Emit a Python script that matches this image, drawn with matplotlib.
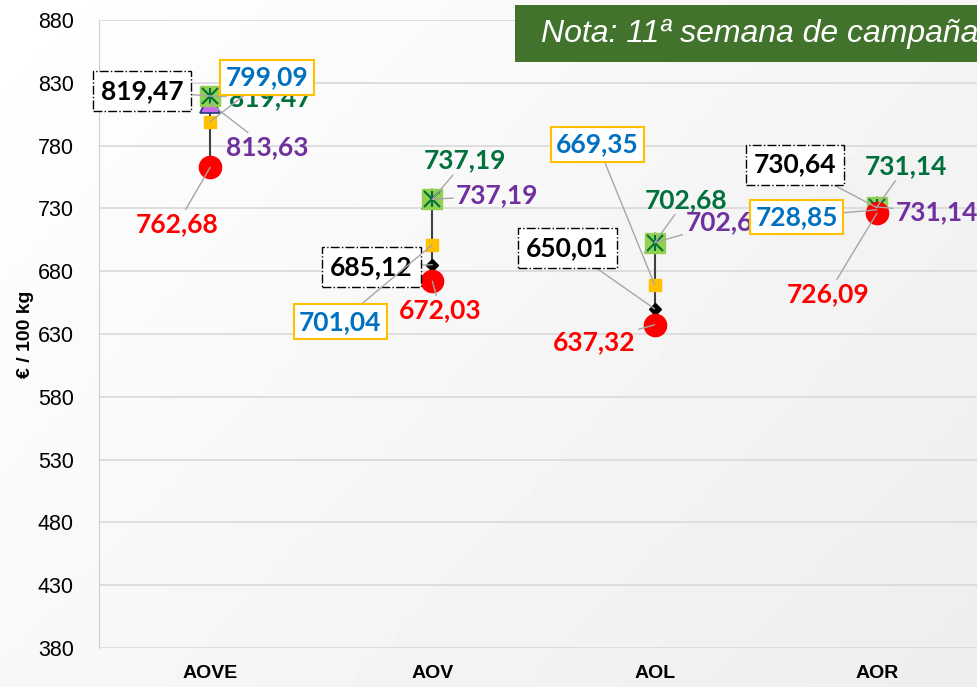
import numpy as np
import matplotlib.pyplot as plt
from matplotlib.patches import Rectangle

# datos
categorias = ['AOVE', 'AOV', 'AOL', 'AOR']
rojo = [762.68, 672.03, 637.32, 726.09]       # circulo rojo
amarillo = [799.09, 701.04, 669.35, 728.85]   # cuadrado amarillo (etiqueta azul)
negro = [819.47, 685.12, 650.01, 730.64]      # rombo negro
verde = [819.47, 737.19, 702.68, 731.14]      # cuadrado verde
morado = [813.63, 737.19, 702.68, 731.14]     # triangulo morado

# desplazamiento de las etiquetas (pixeles)
off_rojo = [(-33, -57), (8, -29), (-60, -17), (-49, -81)]
off_amarillo = [(57, 44), (-92, -77), (-57, 140), (-80, -7)]
off_negro = [(-68, 5), (-61, -2), (-87, 61), (-82, 43)]
off_verde = [(60, -2), (33, 39), (31, 43), (29, 41)]
off_morado = [(57, -44), (65, 4), (72, 21), (60, -5)]

fig = plt.figure(figsize=(9.78, 6.87), dpi=100)

# fondo con degradado suave
bg = fig.add_axes([0, 0, 1, 1], zorder=-10)
gx, gy = np.meshgrid(np.linspace(0, 1, 200), np.linspace(0, 1, 200))
bg.imshow(1 - 0.07 * (0.6 * gx + 0.4 * gy), cmap='gray', vmin=0, vmax=1,
          extent=[0, 1, 0, 1], aspect='auto')
bg.axis('off')

ax = fig.add_axes([0.1012, 0.0568, 0.909, 0.9141])
ax.patch.set_alpha(0)
x = np.arange(len(categorias))

ax.set_xlim(-0.5, 3.5)
ax.set_ylim(380, 880)
ax.set_yticks(np.arange(380, 881, 50))
ax.grid(axis='y', color='#d9d9d9', lw=1.2)
ax.set_axisbelow(True)
for s in ['top', 'right', 'bottom']:
    ax.spines[s].set_visible(False)
ax.spines['left'].set_color('#d0d0d0')
ax.tick_params(axis='y', length=0, labelsize=15.5, pad=18)
for t in ax.get_yticklabels():
    t.set_family('Liberation Sans')
ax.set_xticks(x)
ax.set_xticklabels(categorias, fontweight='bold', fontsize=14, family='Liberation Sans')
ax.tick_params(axis='x', length=0, pad=12)
ax.set_ylabel('€ / 100 kg', fontweight='bold', fontsize=14, family='Liberation Sans', labelpad=3)

# linea max-min
todos = np.array([rojo, amarillo, negro, verde, morado])
ax.vlines(x, todos.min(axis=0), todos.max(axis=0), color='#404040', lw=1.5, zorder=2)

ax.plot(x, negro, 'D', color='black', ms=6, zorder=3, ls='none')
ax.plot(x, amarillo, 's', color='#FFC000', ms=9, zorder=4, ls='none')
ax.plot(x, morado, '^', color='#CC66EE', mec='#1F3A7A', mew=1.2, ms=14, zorder=5, ls='none')
ax.plot(x, verde, 's', color='#92D050', ms=14, zorder=6, ls='none')
ax.plot(x, verde, 'x', color='#00703C', ms=11, mew=1.5, zorder=7, ls='none')
ax.plot(x, verde, '|', color='#00703C', ms=12, mew=1.5, zorder=7, ls='none')
ax.plot(x, rojo, 'o', color='#FF0000', ms=16, zorder=8, ls='none')

fuente = 'Lato'
tam = 19


def etiquetas(vals, offs, color, bbox=None):
    for xi, v, o in zip(x, vals, offs):
        txt = f'{v:.2f}'.replace('.', ',')
        ax.annotate(txt, (xi, v), xytext=o, textcoords='offset pixels',
                    ha='center', va='center', color=color, fontsize=tam,
                    fontweight='bold', family=fuente, bbox=bbox, zorder=10,
                    arrowprops=dict(arrowstyle='-', color='#a6a6a6', lw=1,
                                    shrinkA=0, shrinkB=0))


etiquetas(rojo, off_rojo, '#FF0000')
etiquetas(verde, off_verde, '#00703C')
etiquetas(morado, off_morado, '#7030A0')
etiquetas(negro, off_negro, 'black',
          bbox=dict(boxstyle='square,pad=0.3', fc='white', ec='black', ls='-.', lw=1))
etiquetas(amarillo, off_amarillo, '#0070C0',
          bbox=dict(boxstyle='square,pad=0.2', fc='white', ec='#FFC000', lw=1.5))

# nota
fig.patches.append(Rectangle((515 / 978, 1 - 62 / 687), 1, 57 / 687,
                             transform=fig.transFigure, fc='#41732D', ec='none', zorder=20))
fig.text(541 / 978, 1 - 34 / 687, 'Nota: 11ª semana de campaña', color='white',
         fontsize=23, style='italic', family='Liberation Sans', va='center', zorder=21)

fig.savefig('out.png', dpi=100)
